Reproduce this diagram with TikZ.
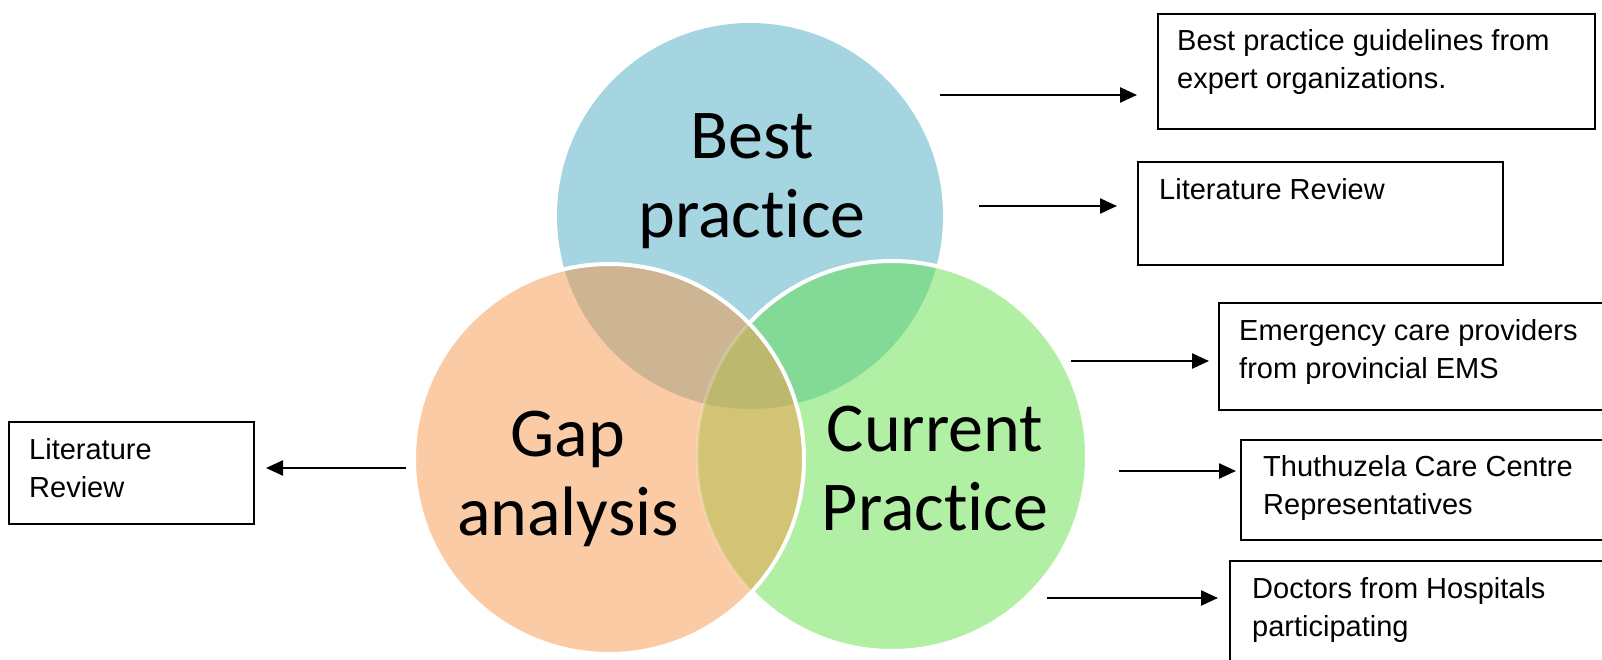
\documentclass[tikz,border=0pt]{standalone}
\usepackage{fontspec}
\setmainfont{Liberation Sans}
\newfontfamily\calib[Ligatures=NoCommon]{Carlito}
\usetikzlibrary{arrows.meta}
\definecolor{cblue}{HTML}{A6D5E2}
\definecolor{cgreen}{HTML}{B1F0A4}
\definecolor{corange}{HTML}{FACBA4}
\definecolor{cbo}{HTML}{CDB594}
\definecolor{cbg}{HTML}{83DA97}
\definecolor{cog}{HTML}{D3C374}
\definecolor{call}{HTML}{BCB96E}
\begin{document}
\begin{tikzpicture}[x=1pt,y=-1pt,
  box/.style={draw=black, line width=2.2pt, inner sep=0pt, anchor=north west},
  boxtext/.style={anchor=base west, inner sep=0pt, align=left,
    font=\fontsize{29}{38}\selectfont},
  biglabel/.style={anchor=base, inner sep=0pt, align=center,
    font=\calib\fontsize{70}{79}\selectfont},
  arr/.style={line width=2.4pt, -{Triangle[length=17pt,width=15pt]}},
  outline/.style={draw=white, line width=4pt}]
\useasboundingbox (0,0) rectangle (1602,660);
\def\Bc{(750,216) circle[radius=193pt]}
\def\Gc{(892,456) circle[radius=195pt]}
\def\Oc{(609,459) circle[radius=195pt]}
% blue circle
\fill[cblue] \Bc;
% green circle
\fill[cgreen] \Gc;
\begin{scope}
  \clip \Bc;
  \fill[cbg] \Gc;
\end{scope}
\draw[outline] \Gc;
% orange circle
\fill[corange] \Oc;
\begin{scope}
  \clip \Oc;
  \fill[cbo] \Bc;
  \begin{scope}
    \clip \Gc;
    \fill[cog] \Oc;
    \fill[call] \Bc;
  \end{scope}
  \draw[draw=white, line width=3pt, opacity=0.2] \Gc;
\end{scope}
\draw[outline] \Oc;
% circle labels (base = baseline of last line)
\node[biglabel] (lb) at (752,238) {Best\\practice};
\node[biglabel] (lg) at (568,535) {Gap\\analysis};
\node[biglabel] (lc) at (935,530) {Current\\Practice};
% boxes
\node[box, minimum width=437pt, minimum height=115pt] (b1) at (1157,13) {};
\node[box, minimum width=365pt, minimum height=103pt] (b2) at (1137,161) {};
\node[box, minimum width=390pt, minimum height=107pt] (b3) at (1218,302) {};
\node[box, minimum width=368pt, minimum height=100pt] (b4) at (1240,439) {};
\node[box, minimum width=380pt, minimum height=118pt] (b5) at (1229,560) {};
\node[box, minimum width=245pt, minimum height=102pt] (bl) at (8,421) {};
% box texts
\node[boxtext] (t1) at (1177,89) {Best practice guidelines from\\expert organizations.};
\node[boxtext] (t2) at (1159,200) {Literature Review};
\node[boxtext] (t3) at (1239,378) {Emergency care providers\\from provincial EMS};
\node[boxtext] (t4) at (1263,514) {Thuthuzela Care Centre\\Representatives};
\node[boxtext] (t5) at (1252,636) {Doctors from Hospitals\\participating};
\node[boxtext] (tl) at (29,497) {Literature\\Review};
% arrows
\coordinate (a1s) at (940,95);  \coordinate (a1e) at (1137,95);
\coordinate (a2s) at (979,206); \coordinate (a2e) at (1117,206);
\coordinate (a3s) at (1071,361); \coordinate (a3e) at (1209,361);
\coordinate (a4s) at (1119,471); \coordinate (a4e) at (1236,471);
\coordinate (a5s) at (1047,598); \coordinate (a5e) at (1218,598);
\coordinate (als) at (406,468); \coordinate (ale) at (266,468);
\draw[arr] (a1s) -- (a1e);
\draw[arr] (a2s) -- (a2e);
\draw[arr] (a3s) -- (a3e);
\draw[arr] (a4s) -- (a4e);
\draw[arr] (a5s) -- (a5e);
\draw[arr] (als) -- (ale);
\end{tikzpicture}
\end{document}
